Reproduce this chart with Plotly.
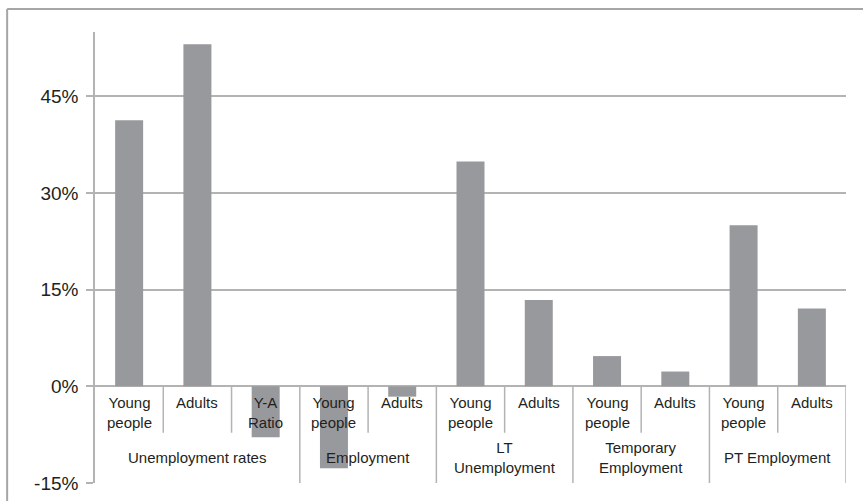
import plotly.graph_objects as go

# ---- data ----
groups = ["Unemployment rates", "Employment", "LT<br>Unemployment",
          "Temporary<br>Employment", "PT Employment"]
group_sizes = [3, 2, 2, 2, 2]
sub_labels = ["Young<br>people", "Adults", "Y-A<br>Ratio",
              "Young<br>people", "Adults",
              "Young<br>people", "Adults",
              "Young<br>people", "Adults",
              "Young<br>people", "Adults"]
values = [41.3, 53.1, -7.9, -12.7, -1.6, 34.9, 13.4, 4.7, 2.3, 25.0, 12.1]
y_ticks = [-15, 0, 15, 30, 45]
y_tick_text = ["-15%", "0%", "15%", "30%", "45%"]

BAR = "#98999c"
GRID = "#b3b3b3"
TXT = "#231f20"
FONT = "Liberation Sans, Arial, sans-serif"

x = list(range(len(values)))

fig = go.Figure()
fig.add_trace(go.Bar(x=x, y=values, width=0.41, marker=dict(color=BAR, line=dict(width=0)),
                     showlegend=False, hoverinfo="y"))

shapes = []
annotations = []
# sub-category labels and dividers
for i, lab in enumerate(sub_labels):
    annotations.append(dict(x=i, y=-0.8, xref="x", yref="y", text=lab, showarrow=False,
                            yanchor="top", xanchor="center",
                            font=dict(size=15, color=TXT, family=FONT)))
start = 0
for g, n in zip(groups, group_sizes):
    mid = start + (n - 1) / 2
    annotations.append(dict(x=mid, y=-11.1, xref="x", yref="y", text=g, showarrow=False,
                            yanchor="middle", xanchor="center",
                            font=dict(size=15, color=TXT, family=FONT)))
    for k in range(1, n):
        shapes.append(dict(type="line", xref="x", yref="y", x0=start + k - 0.5, x1=start + k - 0.5,
                           y0=0, y1=-7.2, line=dict(color=GRID, width=1.5)))
    start += n
    shapes.append(dict(type="line", xref="x", yref="y", x0=start - 0.5, x1=start - 0.5,
                       y0=0, y1=-15, line=dict(color=GRID, width=1.5)))

# outer frame (top and left only)
shapes.append(dict(type="line", xref="paper", yref="paper", x0=-0.117, x1=1.05, y0=1.051, y1=1.051,
                   line=dict(color="#a6a6a6", width=2)))
shapes.append(dict(type="line", xref="paper", yref="paper", x0=-0.117, x1=-0.117, y0=1.051, y1=-0.1,
                   line=dict(color="#a6a6a6", width=2)))

fig.update_layout(
    width=863, height=501,
    margin=dict(l=95, r=17, t=32, b=18),
    plot_bgcolor="white", paper_bgcolor="white",
    bargap=0.59,
    shapes=shapes, annotations=annotations,
    xaxis=dict(range=[-0.5, len(values) - 0.5], showticklabels=False, showgrid=False,
               zeroline=False, showline=False, ticks="", automargin=False),
    yaxis=dict(range=[-15, 55], tickvals=y_ticks, ticktext=y_tick_text,
               showgrid=True, gridcolor=GRID, gridwidth=1.5,
               zeroline=True, zerolinecolor=GRID, zerolinewidth=1.5,
               showline=True, linecolor=GRID, linewidth=1.5,
               ticks="outside", ticklen=7, tickcolor=GRID, tickwidth=1.5,
               tickfont=dict(size=19, color=TXT, family=FONT), ticklabelstandoff=4,
               automargin=False),
)
fig.write_html("out.html", config={"displayModeBar": False},
               post_script="document.body.style.margin='0';document.body.style.overflow='hidden';")
